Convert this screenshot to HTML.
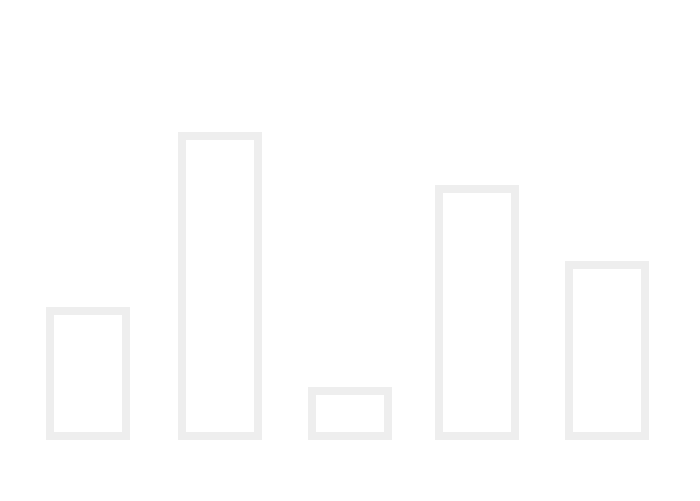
<!DOCTYPE html>
<html><head><meta charset="utf-8"><style>body{margin:0;background:#fff}svg{display:block}</style></head>
<body>
<svg id="chart" width="700" height="501" xmlns="http://www.w3.org/2000/svg"></svg>
<script>
const categories = ["a","b","c","d","e"];
const values = [133, 308, 53, 255, 179];
const svg = document.getElementById('chart');
const baseline = 440, scaleY = 1;
function xPos(i){ return [46,178,308,435,565][i]; }
function yPos(v){ return baseline - v*scaleY; }
categories.forEach((c,i)=>{
  const r = document.createElementNS('http://www.w3.org/2000/svg','rect');
  const x0 = xPos(i), top = yPos(values[i]);
  r.setAttribute('x', x0+4);
  r.setAttribute('y', top+4);
  r.setAttribute('width', 76);
  r.setAttribute('height', Math.max(0, baseline-top-8));
  r.setAttribute('fill','none');
  r.setAttribute('stroke','#eeeeee');
  r.setAttribute('stroke-width','8');
  
  
  svg.appendChild(r);
});
</script>
</body></html>
